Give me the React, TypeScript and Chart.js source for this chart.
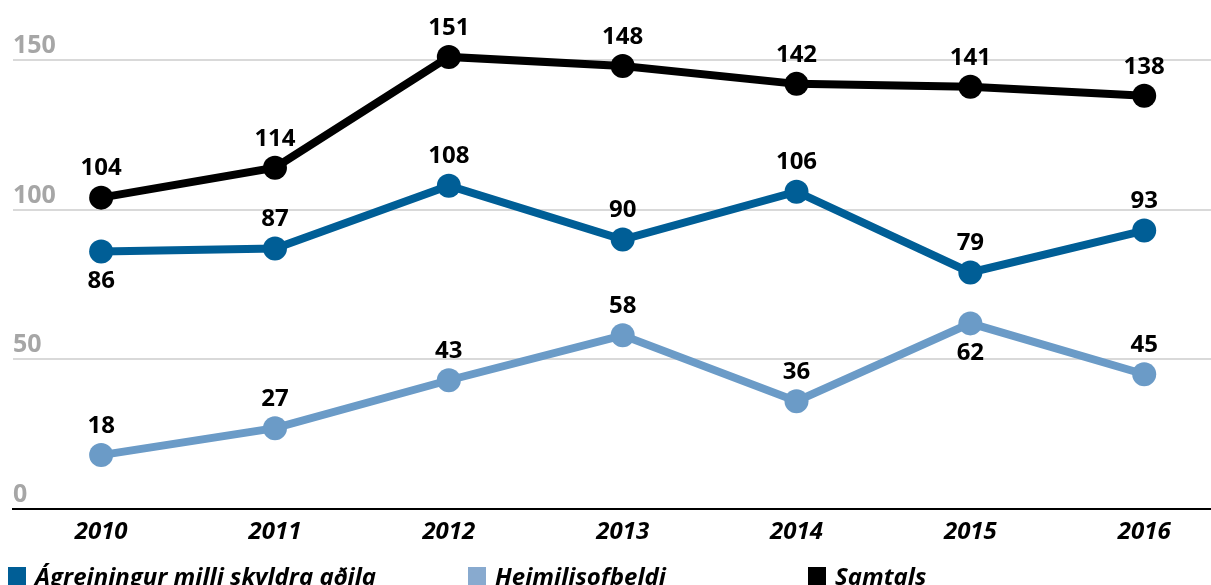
import React, { useEffect, useRef } from "react";
import { Chart, registerables } from "chart.js";

Chart.register(...registerables);

const years = [2010, 2011, 2012, 2013, 2014, 2015, 2016];
const agreiningur = [86, 87, 108, 90, 106, 79, 93];
const heimilisofbeldi = [18, 27, 43, 58, 36, 62, 45];
const samtals = [104, 114, 151, 148, 142, 141, 138];
const yTicks = [0, 50, 100, 150];

const seriesNames = ["Ágreiningur milli skyldra aðila", "Heimilisofbeldi", "Samtals"];
const seriesColors = ["#005e96", "#6b9bc7", "#000000"];
// label placement per series: true = below the point
const labelBelow = [
  [true, false, false, false, false, false, false],
  [false, false, false, false, false, true, false],
  [false, false, false, false, false, false, false],
];

const FONT = "'Open Sans', 'DejaVu Sans', sans-serif";

const dataLabelPlugin = {
  id: "dataLabels",
  afterDatasetsDraw(chart: any) {
    const ctx = chart.ctx;
    ctx.save();
    ctx.font = `bold 24px ${FONT}`;
    ctx.fillStyle = "#000";
    ctx.textAlign = "center";
    ctx.textBaseline = "middle";
    chart.data.datasets.forEach((ds: any, di: number) => {
      const meta = chart.getDatasetMeta(di);
      meta.data.forEach((pt: any, i: number) => {
        const below = labelBelow[di][i];
        const v = ds.data[i].y;
        ctx.fillText(String(v), pt.x, pt.y + (below ? 30 : -29));
      });
    });
    ctx.restore();
  },
};

export default function App() {
  const ref = useRef<HTMLCanvasElement>(null);
  useEffect(() => {
    if (!ref.current) return;
    const mk = (vals: number[]) => years.map((y, i) => ({ x: y, y: vals[i] }));
    const all = [agreiningur, heimilisofbeldi, samtals];
    const chart = new Chart(ref.current, {
      type: "line",
      data: {
        datasets: all.map((vals, i) => ({
          label: seriesNames[i],
          data: mk(vals),
          borderColor: seriesColors[i],
          backgroundColor: seriesColors[i],
          pointBackgroundColor: seriesColors[i],
          pointBorderColor: seriesColors[i],
          borderWidth: 8,
          pointRadius: 12,
          pointBorderWidth: 0,
          tension: 0,
          fill: false,
        })),
      },
      options: {
        responsive: false,
        animation: false,
        layout: { padding: { left: 13, top: 14, right: 0, bottom: 0 } },
        plugins: { legend: { display: false }, tooltip: { enabled: false } },
        scales: {
          x: {
            type: "linear",
            min: 2009.493,
            max: 2016.39,
            afterBuildTicks: (s: any) => {
              s.ticks = years.map((v) => ({ value: v }));
            },
            afterFit: (s: any) => {
              s.height = 76;
            },
            grid: { display: false, drawTicks: false },
            border: { display: true, color: "#000", width: 2 },
            ticks: {
              padding: 9,
              color: "#000",
              font: { family: FONT, size: 24, weight: "bold", style: "italic" },
              callback: (v: any) => String(v),
              maxRotation: 0,
            },
          },
          y: {
            min: 0,
            max: 165,
            afterBuildTicks: (s: any) => {
              s.ticks = yTicks.map((v) => ({ value: v }));
            },
            afterFit: (s: any) => {
              s.width = 0;
            },
            grid: { color: "#d9d9d9", lineWidth: 2, drawTicks: false },
            border: { display: false },
            ticks: {
              mirror: true,
              padding: 0,
              labelOffset: -14,
              color: "#a6a6a6",
              font: { family: FONT, size: 25, weight: "bold" },
            },
          },
        },
      },
      plugins: [dataLabelPlugin],
    } as any);
    return () => chart.destroy();
  }, []);

  const legendX = [8, 468, 808];
  return (
    <div style={{ position: "fixed", left: 0, top: 0, width: 1211, height: 585, overflow: "hidden", background: "#fff" }}>
      <canvas ref={ref} width={1224} height={585} style={{ display: "block" }} />
      {seriesNames.map((n, i) => (
        <div
          key={n}
          style={{
            position: "absolute",
            left: legendX[i],
            top: 559,
            display: "flex",
            alignItems: "center",
            fontFamily: FONT,
            fontWeight: "bold",
            fontStyle: "italic",
            fontSize: 24,
            color: "#000",
            whiteSpace: "nowrap",
          }}
        >
          <span style={{ display: "inline-block", width: 18, height: 18, background: i === 1 ? "#88aacf" : seriesColors[i], marginRight: 9 }} />
          <span>{n}</span>
        </div>
      ))}
    </div>
  );
}
